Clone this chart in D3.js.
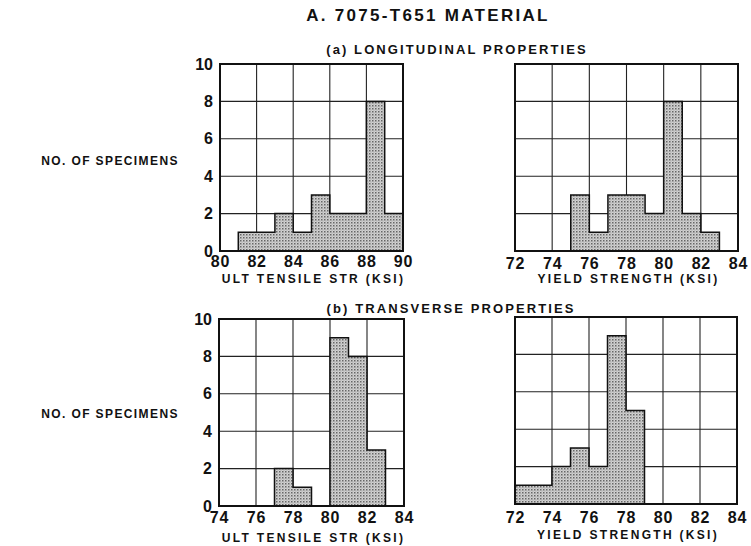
<!DOCTYPE html>
<html>
<head>
<meta charset="utf-8">
<script src="https://cdn.jsdelivr.net/npm/d3@7"></script>
<style>
  body { margin: 0; background: #fff; }
  text { font-family: "Liberation Sans", Arial, sans-serif; font-weight: bold; fill: #111; }
</style>
</head>
<body>
<div id="chart"></div>
<script>
// counts per 1 ksi bin, starting at the first tick of each panel
var longUltStart = 80
var longUltCounts = [0, 1, 1, 2, 1, 3, 2, 2, 8, 2]
var longYieldStart = 72
var longYieldCounts = [0, 0, 0, 3, 1, 3, 3, 2, 8, 2, 1, 0]
var transUltStart = 74
var transUltCounts = [0, 0, 0, 2, 1, 0, 9, 8, 3, 0]
var transYieldStart = 72
var transYieldCounts = [1, 1, 2, 3, 2, 9, 5, 0, 0, 0, 0, 0]

var yTicks = [0, 2, 4, 6, 8, 10]
var ultTicksA = [80, 82, 84, 86, 88, 90]
var ultTicksB = [74, 76, 78, 80, 82, 84]
var yieldTicks = [72, 74, 76, 78, 80, 82, 84]

var W = 751, H = 546

var svg = d3.select('#chart').append('svg')
  .attr('width', W).attr('height', H)

// stipple fill
var pat = svg.append('defs').append('pattern')
  .attr('id', 'dots').attr('patternUnits', 'userSpaceOnUse')
  .attr('width', 3).attr('height', 3)
pat.append('rect').attr('width', 3).attr('height', 3).attr('fill', '#d2d2d2')
pat.append('rect').attr('width', 1.5).attr('height', 1.5).attr('fill', '#666')
pat.append('rect').attr('x', 1.5).attr('y', 1.5).attr('width', 1).attr('height', 1).attr('fill', '#999')

svg.append('text').attr('x', 428).attr('y', 21).attr('text-anchor', 'middle')
  .style('font-size', '17px').style('letter-spacing', '2.3px').text('A. 7075-T651 MATERIAL')
svg.append('text').attr('x', 457).attr('y', 54).attr('text-anchor', 'middle')
  .style('font-size', '13px').style('letter-spacing', '2.1px')
  .text('(a) LONGITUDINAL PROPERTIES')
svg.append('text').attr('x', 451).attr('y', 313).attr('text-anchor', 'middle')
  .style('font-size', '13px').style('letter-spacing', '2.1px')
  .text('(b) TRANSVERSE PROPERTIES')

svg.append('text').attr('x', 110).attr('y', 165).attr('text-anchor', 'middle')
  .style('font-size', '12px').style('letter-spacing', '1.4px').text('NO. OF SPECIMENS')
svg.append('text').attr('x', 110).attr('y', 418).attr('text-anchor', 'middle')
  .style('font-size', '12px').style('letter-spacing', '1.4px').text('NO. OF SPECIMENS')

function panel(box, start, counts, xTicks, title, showY) {
  var x = d3.scaleLinear().domain([xTicks[0], xTicks[xTicks.length - 1]]).range([box.l, box.r])
  var y = d3.scaleLinear().domain([0, 10]).range([box.b, box.t])
  var g = svg.append('g')

  // grid
  g.selectAll('.vg').data(xTicks).enter().append('line')
    .attr('x1', function(d) { return x(d) }).attr('x2', function(d) { return x(d) })
    .attr('y1', box.t).attr('y2', box.b)
    .attr('stroke', '#222').attr('stroke-width', 1.1)
  g.selectAll('.hg').data(yTicks).enter().append('line')
    .attr('y1', function(d) { return y(d) }).attr('y2', function(d) { return y(d) })
    .attr('x1', box.l).attr('x2', box.r)
    .attr('stroke', '#222').attr('stroke-width', 1.1)

  // histogram outline
  var pts = counts.map(function(c, i) { return [start + i, c] })
  pts.push([start + counts.length, counts[counts.length - 1]])
  var area = d3.area()
    .x(function(d) { return x(d[0]) })
    .y0(y(0))
    .y1(function(d) { return y(d[1]) })
    .curve(d3.curveStepAfter)
  g.append('path').datum(pts)
    .attr('d', area)
    .attr('fill', 'url(#dots)')
    .attr('stroke', '#111').attr('stroke-width', 1.5)

  g.append('rect').attr('x', box.l).attr('y', box.t)
    .attr('width', box.r - box.l).attr('height', box.b - box.t)
    .attr('fill', 'none').attr('stroke', '#111').attr('stroke-width', 2)

  var xa = g.append('g').attr('transform', 'translate(0,' + box.b + ')')
    .call(d3.axisBottom(x).tickValues(xTicks).tickSize(0).tickPadding(box.tp))
  xa.select('.domain').remove()
  xa.selectAll('text').style('font-size', '16px').style('font-family', '"Liberation Sans", Arial, sans-serif')
    .style('font-weight', 'bold').style('letter-spacing', '0.8px').attr('fill', '#111')

  if (showY) {
    var ya = g.append('g').attr('transform', 'translate(' + box.l + ',0)')
      .call(d3.axisLeft(y).tickValues(yTicks).tickSize(0).tickPadding(7))
    ya.select('.domain').remove()
    ya.selectAll('text').style('font-size', '16px').style('font-family', '"Liberation Sans", Arial, sans-serif')
      .style('font-weight', 'bold').attr('fill', '#111')
  }

  g.append('text').attr('x', (box.l + box.r) / 2 + 2).attr('y', box.b + box.to)
    .attr('text-anchor', 'middle').style('font-size', '12px').style('letter-spacing', '2.3px')
    .text(title)
}

panel({ l: 220, r: 403, t: 64, b: 251, tp: 5, to: 32 }, longUltStart, longUltCounts, ultTicksA, 'ULT TENSILE STR (KSI)', true)
panel({ l: 515, r: 738, t: 64, b: 251, tp: 7, to: 32 }, longYieldStart, longYieldCounts, yieldTicks, 'YIELD STRENGTH (KSI)', false)
panel({ l: 219, r: 404, t: 319, b: 506, tp: 6, to: 36 }, transUltStart, transUltCounts, ultTicksB, 'ULT TENSILE STR (KSI)', true)
panel({ l: 515, r: 737, t: 317, b: 504, tp: 8, to: 35 }, transYieldStart, transYieldCounts, yieldTicks, 'YIELD STRENGTH (KSI)', false)
</script>
</body>
</html>
